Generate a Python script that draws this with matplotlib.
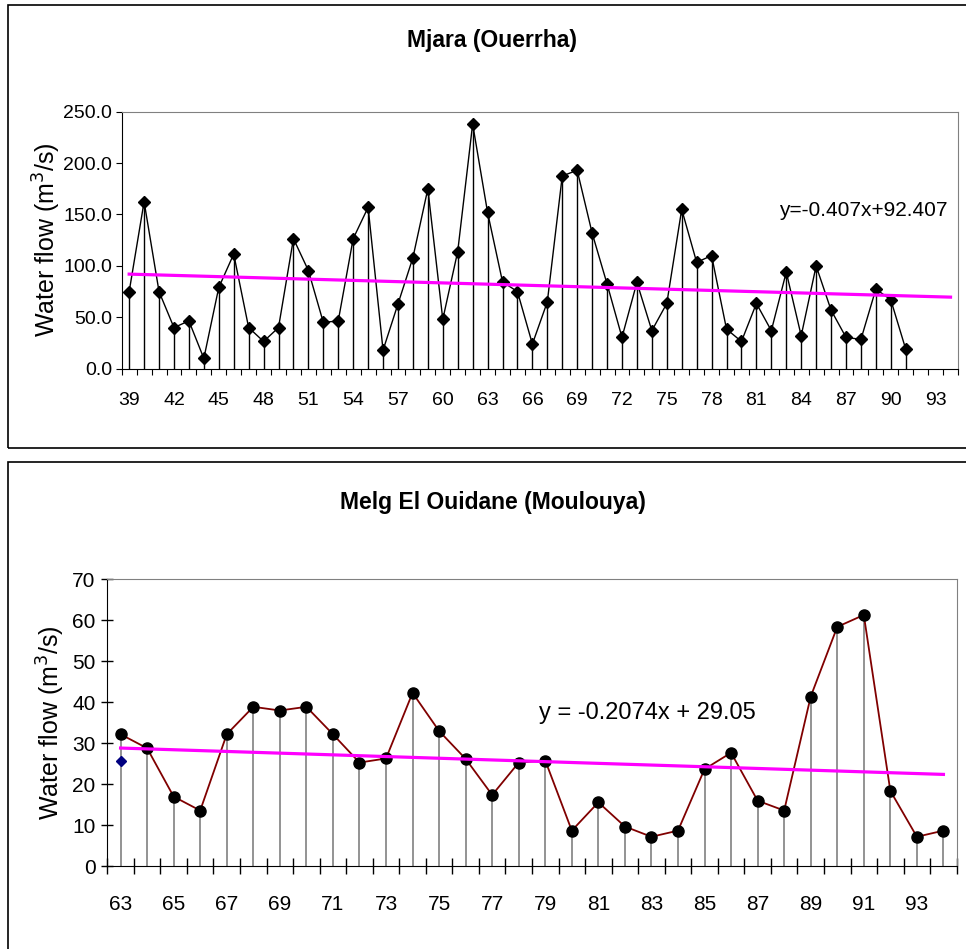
import matplotlib.pyplot as plt
import matplotlib.patches as patches
from matplotlib.ticker import FixedLocator, FormatStrFormatter

plt.rcParams['font.family'] = ['Liberation Sans', 'DejaVu Sans']

# Mjara (Ouerrha) annual flows, 1939-1991
mjara_years = list(range(39, 92))
mjara_flow = [75, 162.5, 75, 40, 46.5, 10, 79, 111.5, 40, 26.5,
              40, 126.5, 95.5, 45, 46.5, 126.5, 157, 18, 63, 108,
              175, 48, 114, 238, 152, 84.5, 75, 24, 65, 187.5,
              193, 132, 82.5, 30.5, 84, 37, 63.5, 155, 103.5, 110,
              38.5, 26.5, 63.5, 37, 94, 32, 100, 57, 30.5, 28.5,
              77.5, 67, 19]
mjara_slope, mjara_icpt = -0.407, 92.407
mjara_ticks = list(range(39, 94, 3))

# Melg El Ouidane (Moulouya) annual flows, 1963-1994
melg_years = list(range(63, 95))
melg_flow = [32.2, 28.8, 17, 13.6, 32.2, 38.9, 38, 38.9, 32.2, 25.3,
             26.3, 42.3, 33, 26.2, 17.4, 25.3, 25.8, 8.7, 15.6, 9.7,
             7.2, 8.7, 23.7, 27.7, 16, 13.6, 41.4, 58.4, 61.3, 18.4,
             7.2, 8.7]
melg_extra = [25.7]  # single extra point at 63
melg_slope, melg_icpt = -0.2074, 29.05
melg_ticks = list(range(63, 95, 2))

W, H = 966, 949
fig = plt.figure(figsize=(W / 100, H / 100), dpi=100)

# frames around each chart block
fig.add_artist(patches.Rectangle((8 / W, 1 - 448 / H), 1.0, (448 - 5) / H,
                                 transform=fig.transFigure, fill=False,
                                 edgecolor='black', linewidth=1.2))
fig.add_artist(patches.Rectangle((8 / W, -0.05), 1.0, 0.05 + 1 - 461.7 / H,
                                 transform=fig.transFigure, fill=False,
                                 edgecolor='black', linewidth=1.2))


def axes_px(left, top, right, bottom):
    return fig.add_axes([left / W, 1 - bottom / H, (right - left) / W, (bottom - top) / H])


def text_px(x, y, s, **kw):
    return fig.text(x / W, 1 - y / H, s, **kw)


def style_axes(ax):
    ax.spines['top'].set_color('#808080')
    ax.spines['right'].set_color('#808080')
    ax.spines['left'].set_color('black')
    ax.spines['bottom'].set_color('black')


# ---- top chart ----
ax1 = axes_px(121.7, 111.7, 958, 368.7)
style_axes(ax1)
ax1.vlines(mjara_years, 0, mjara_flow, color='black', linewidth=1.0, zorder=2)
ax1.plot(mjara_years, mjara_flow, color='black', linewidth=1.0, marker='D',
         markersize=6.5, zorder=3)
trend_x = list(range(mjara_years[0], 95))
trend_y = [mjara_slope * (i + 1) + mjara_icpt for i in range(len(trend_x))]
ax1.plot(trend_x, trend_y, color='#FF00FF', linewidth=2.3, zorder=4)
ax1.set_xlim(38.5, 94.5)
ax1.set_ylim(0, 250)
ax1.yaxis.set_major_locator(FixedLocator([0, 50, 100, 150, 200, 250]))
ax1.yaxis.set_major_formatter(FormatStrFormatter('%.1f'))
ax1.set_xticks(mjara_ticks)
ax1.set_xticklabels([str(t) for t in mjara_ticks])
ax1.xaxis.set_minor_locator(FixedLocator([y - 0.5 for y in range(39, 96)]))
ax1.tick_params(axis='x', which='major', length=0, pad=17, labelsize=14)
ax1.tick_params(axis='x', which='minor', length=4, width=0.8, direction='out')
ax1.tick_params(axis='y', length=4, width=0.8, direction='out', pad=3, labelsize=14)
ax1.set_ylabel('Water flow (m$^3$/s)', fontsize=18, labelpad=0)
text_px(948, 210, 'y=-0.407x+92.407', fontsize=15, ha='right', va='center')
text_px(492, 41, 'Mjara (Ouerrha)', fontsize=16.5, fontweight='bold',
        ha='center', va='center')

# ---- bottom chart ----
ax2 = axes_px(107.3, 579.3, 956.7, 866.3)
style_axes(ax2)
ax2.vlines(melg_years, 0, melg_flow, color='#808080', linewidth=1.2, zorder=2)
ax2.plot(melg_years, melg_flow, color='#800000', linewidth=1.3, marker='o',
         markerfacecolor='black', markeredgecolor='black', markersize=8, zorder=3)
ax2.plot(melg_years[:len(melg_extra)], melg_extra, linestyle='none', marker='D',
         color='#000080', markersize=5, zorder=3)
trend_x = melg_years
trend_y = [melg_slope * (i + 1) + melg_icpt for i in range(len(trend_x))]
ax2.plot(trend_x, trend_y, color='#FF00FF', linewidth=2.3, zorder=4)
ax2.set_xlim(62.5, 94.5)
ax2.set_ylim(0, 70)
ax2.yaxis.set_major_locator(FixedLocator(list(range(0, 71, 10))))
ax2.set_xticks(melg_ticks)
ax2.set_xticklabels([str(t) for t in melg_ticks])
ax2.xaxis.set_minor_locator(FixedLocator([y - 0.5 for y in range(63, 96)]))
ax2.tick_params(axis='x', which='major', length=0, pad=21, labelsize=15)
ax2.tick_params(axis='x', which='minor', length=11, width=1.0, direction='inout')
ax2.tick_params(axis='y', length=9, width=1.0, direction='inout', pad=4, labelsize=15)
ax2.set_ylabel('Water flow (m$^3$/s)', fontsize=18, labelpad=4)
text_px(539, 713, 'y = -0.2074x + 29.05', fontsize=17, ha='left', va='center')
text_px(493, 502, 'Melg El Ouidane (Moulouya)', fontsize=16.5,
        fontweight='bold', ha='center', va='center')

fig.savefig('out.png', dpi=100)
